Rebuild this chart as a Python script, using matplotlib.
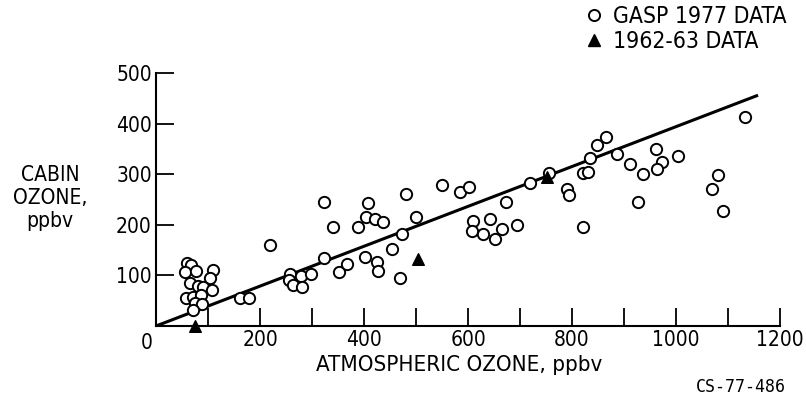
import matplotlib
matplotlib.use('Agg')
import matplotlib.pyplot as plt
from matplotlib.ticker import MultipleLocator
from matplotlib.lines import Line2D

# GASP 1977 data (atmospheric ozone, cabin ozone), ppbv
gasp_x = [60, 68, 56, 76, 110, 103, 65, 80, 90, 107, 57, 71, 86, 75, 88, 71,
          162, 179, 219,
          258, 256, 264, 279, 281, 298,
          323, 323, 340, 352, 367, 388,
          408, 404, 421, 437, 402, 425, 427,
          454, 469, 473, 481, 500,
          550, 585, 601, 610, 608, 629, 642, 652, 665, 673, 694,
          719, 756, 790, 794, 821, 831, 821, 835, 848, 865, 887, 912, 937, 927,
          962, 973, 963, 1003,
          1081, 1069, 1090, 1133]
gasp_y = [125, 120, 107, 109, 111, 94, 85, 80, 77, 71, 56, 57, 61, 45, 44, 32,
          55, 55, 160,
          103, 91, 81, 99, 77, 103,
          245, 134, 196, 107, 122, 196,
          243, 216, 211, 206, 136, 127, 109,
          152, 95, 182, 261, 216,
          279, 265, 275, 208, 188, 182, 211, 172, 192, 245, 200,
          283, 302, 271, 259, 302, 304, 196, 333, 358, 373, 340, 320, 300, 245,
          350, 325, 310, 335,
          298, 271, 227, 413]

# 1962-63 data
old_x = [75, 504, 752]
old_y = [0, 132, 294]

# fitted line
line_x = [0, 1155]
line_y = [0, 455]

x_ticks = [0, 200, 400, 600, 800, 1000, 1200]
y_ticks = [100, 200, 300, 400, 500]

plt.rcParams['font.family'] = ['DejaVu Sans']
plt.rcParams['font.stretch'] = 'condensed'

fig = plt.figure(figsize=(8.06, 4.0), dpi=100)
ax = fig.add_axes([156/806, 1-326/400, 624/806, 253/400])

ax.plot(line_x, line_y, color='black', linewidth=2.2, zorder=2)
ax.scatter(gasp_x, gasp_y, s=66, facecolors='white', edgecolors='black',
           linewidths=1.4, zorder=3, clip_on=False)
ax.scatter(old_x, old_y, s=70, marker='^', color='black', zorder=4, clip_on=False)

ax.set_xlim(0, 1200)
ax.set_ylim(0, 500)
ax.spines['top'].set_visible(False)
ax.spines['right'].set_visible(False)
ax.spines['left'].set_linewidth(1.5)
ax.spines['bottom'].set_linewidth(1.5)

ax.xaxis.set_minor_locator(MultipleLocator(100))
ax.set_xticks(x_ticks)
ax.set_yticks(y_ticks)
ax.set_xticklabels([''] + [str(v) for v in x_ticks[1:]])
ax.set_yticklabels([str(v) for v in y_ticks])
ax.tick_params(axis='both', which='both', direction='in', length=13, width=1.3,
               labelsize=15, pad=3)
# shared origin label, sits left of the corner
ax.text(-0.015, -0.028, '0', transform=ax.transAxes, ha='center', va='top', fontsize=15)

ax.set_xlabel('ATMOSPHERIC OZONE, ppbv', fontsize=16)
ax.xaxis.set_label_coords((459 - 156) / 624, -(365 - 326) / 253)
ax.xaxis.label.set_va('center')
fig.text(50/806, 1-198/400, 'CABIN\nOZONE,\nppbv', ha='center', va='center',
         fontsize=15, linespacing=1.2)

fig.text(786/806, 1-387/400, 'CS-77-486', ha='right', va='center',
         fontsize=12, family='DejaVu Sans Mono')

handles = [Line2D([], [], marker='o', linestyle='none', markersize=8,
                  markerfacecolor='white', markeredgecolor='black', markeredgewidth=1.4),
           Line2D([], [], marker='^', linestyle='none', markersize=9, color='black')]
fig.legend(handles, ['GASP 1977 DATA', '1962-63 DATA'], loc='upper left',
           bbox_to_anchor=(566/806, 1.022), frameon=False, fontsize=16.5,
           handletextpad=0.25, labelspacing=0.1, borderaxespad=0.2, handlelength=1.2)

fig.savefig('out.png', dpi=100, facecolor='white')
